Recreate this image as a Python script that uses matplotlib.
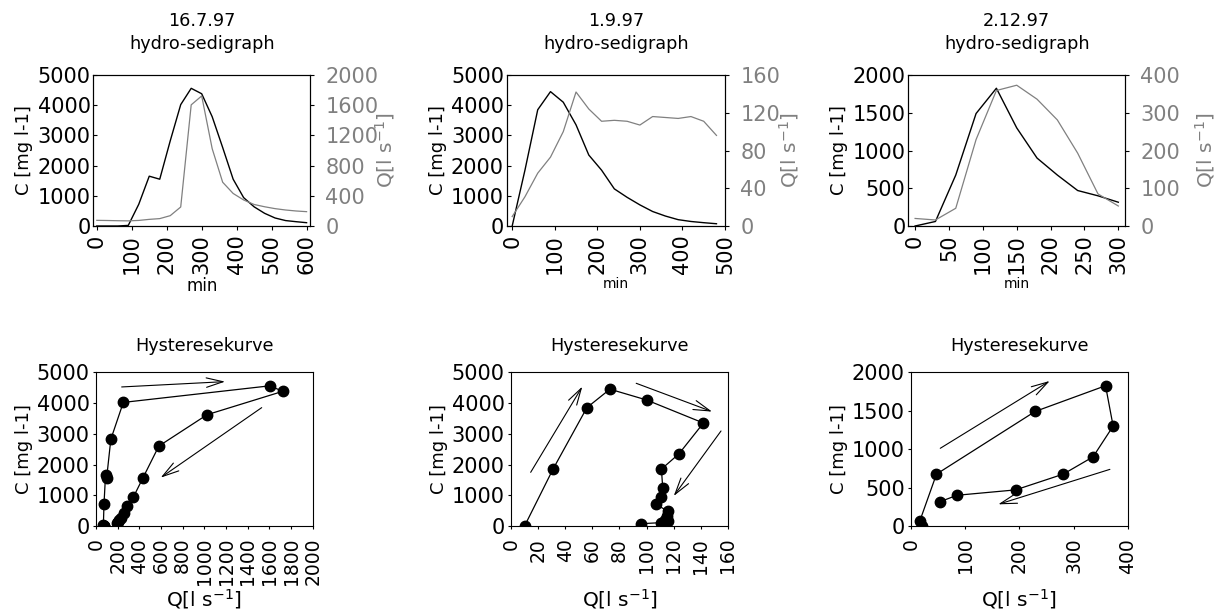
import matplotlib
matplotlib.use('Agg')
import matplotlib.pyplot as plt

# 16.7.97
t_jul = [0, 30, 60, 90, 120, 150, 180, 210, 240, 270, 300, 330, 360, 390, 420, 450, 480, 510, 540, 570, 600]
c_jul = [0, 0, 0, 20, 720, 1650, 1550, 2820, 4020, 4560, 4380, 3620, 2600, 1550, 940, 635, 420, 265, 180, 143, 110]
q_jul = [75, 73, 70, 68, 74, 88, 98, 137, 252, 1605, 1723, 1025, 580, 431, 345, 285, 255, 230, 212, 199, 190]

# 1.9.97
t_sep = [0, 30, 60, 90, 120, 150, 180, 210, 240, 270, 300, 330, 360, 390, 420, 450, 480]
c_sep = [0, 1850, 3850, 4450, 4100, 3350, 2350, 1850, 1230, 950, 700, 480, 330, 210, 150, 110, 75]
q_sep = [10, 31, 56, 73, 100, 142, 124, 111, 112, 111, 107, 116, 115, 114, 116, 111, 96]

# 2.12.97
t_dec = [0, 30, 60, 90, 120, 150, 180, 210, 240, 270, 300]
c_dec = [0, 60, 675, 1490, 1825, 1300, 900, 675, 470, 400, 315]
q_dec = [20, 16, 47, 229, 359, 373, 336, 281, 193, 85, 53]

dates = ['16.7.97', '1.9.97', '2.12.97']

# direction arrows in the hysteresis plots: (Q, C) start -> end
arrows_jul = [((237, 4523), (1191, 4696)), ((1529, 3850), (597, 1573))]
arrows_sep = [((14.5, 1746), (52.6, 4534)), ((92.4, 4642), (148.4, 3720)), ((155, 3091), (120.1, 976))]
arrows_dec = [((54, 1011), (256, 1887)), ((367, 737), (161, 282))]

GREY = '#808080'
qlab = 'Q[l s$^{\\mathregular{-1}}$]'


def hydro(rect, t, c, q, title, xlim, xticks, cticks, qticks, minsize, qlab_x):
    ax = fig.add_axes(rect)
    ax.plot(t, c, color='k', lw=1.0)
    ax.set_xlim(xlim)
    ax.set_ylim(cticks[0], cticks[-1])
    ax.set_xticks(xticks)
    ax.set_yticks(cticks)
    ax.tick_params(axis='x', direction='out', length=3, pad=3, labelsize=15, labelrotation=90)
    ax.tick_params(axis='y', direction='in', length=3, pad=2, labelsize=15)
    ax.set_ylabel('C [mg l-1]', fontsize=13, labelpad=3)
    ax.set_xlabel('min', fontsize=minsize)
    ax.xaxis.set_label_coords(0.5, -0.34)
    ax.set_title(title + '\nhydro-sedigraph', fontsize=12.7, pad=18.5, linespacing=1.4)

    ax2 = ax.twinx()
    ax2.plot(t, q, color=GREY, lw=0.9)
    ax2.set_ylim(qticks[0], qticks[-1])
    ax2.set_yticks(qticks)
    ax2.tick_params(axis='y', direction='out', length=3, pad=8, labelsize=15, labelcolor=GREY)
    ax2.set_ylabel(qlab, fontsize=14.5, color=GREY)
    ax2.yaxis.set_label_coords(qlab_x, 0.5)
    for a in (ax, ax2):
        for s in a.spines.values():
            s.set_linewidth(0.8)
    return ax


def hyst(rect, q, c, xlim, xticks, cticks, arrows):
    ax = fig.add_axes(rect)
    ax.plot(q, c, '-o', color='k', lw=0.9, ms=7.5)
    for start, end in arrows:
        ax.annotate('', xy=end, xytext=start,
                    arrowprops=dict(arrowstyle='->,head_length=0.6,head_width=0.17',
                                    lw=0.8, color='k', shrinkA=0, shrinkB=0,
                                    mutation_scale=20))
    ax.set_xlim(xlim)
    ax.set_ylim(cticks[0], cticks[-1])
    ax.set_xticks(xticks)
    ax.set_yticks(cticks)
    ax.tick_params(axis='x', direction='out', length=2.5, pad=6, labelsize=13.5, labelrotation=90)
    ax.tick_params(axis='y', direction='out', length=2.5, pad=2, labelsize=15)
    ax.set_ylabel('C [mg l-1]', fontsize=13, labelpad=3)
    ax.set_xlabel(qlab, fontsize=14.5)
    ax.xaxis.set_label_coords(0.5, -0.40)
    ax.set_title('Hysteresekurve', fontsize=12.7, pad=15)
    for s in ax.spines.values():
        s.set_linewidth(0.8)
    return ax


fig = plt.figure(figsize=(12.15, 6.11), dpi=100)

hydro([0.0768, 0.6301, 0.1784, 0.2471], t_jul, c_jul, q_jul, dates[0], (-10, 610),
      [0, 100, 200, 300, 400, 500, 600], [0, 1000, 2000, 3000, 4000, 5000],
      [0, 400, 800, 1200, 1600, 2000], 12, 1.291)
hydro([0.4170, 0.6301, 0.1797, 0.2471], t_sep, c_sep, q_sep, dates[1], (-13, 500),
      [0, 100, 200, 300, 400, 500], [0, 1000, 2000, 3000, 4000, 5000],
      [0, 40, 80, 120, 160], 10, 1.237)
hydro([0.7476, 0.6301, 0.1784, 0.2471], t_dec, c_dec, q_dec, dates[2], (-10, 310),
      [0, 50, 100, 150, 200, 250, 300], [0, 500, 1000, 1500, 2000],
      [0, 100, 200, 300, 400], 10, 1.314)

hyst([0.0790, 0.1391, 0.1784, 0.2516], q_jul, c_jul, (0, 2000),
     [0, 200, 400, 600, 800, 1000, 1200, 1400, 1600, 1800, 2000],
     [0, 1000, 2000, 3000, 4000, 5000], arrows_jul)
hyst([0.4206, 0.1391, 0.1784, 0.2516], q_sep, c_sep, (0, 160),
     [0, 20, 40, 60, 80, 100, 120, 140, 160],
     [0, 1000, 2000, 3000, 4000, 5000], arrows_sep)
hyst([0.7498, 0.1391, 0.1784, 0.2516], q_dec, c_dec, (0, 400),
     [0, 100, 200, 300, 400],
     [0, 500, 1000, 1500, 2000], arrows_dec)

fig.savefig('out.png', dpi=100)
